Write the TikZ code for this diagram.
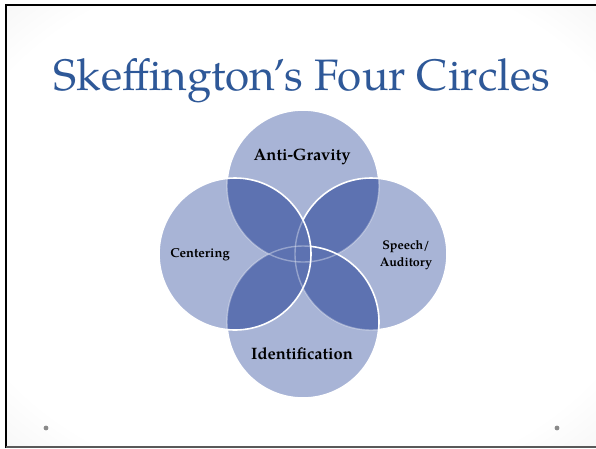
\documentclass[tikz,border=0pt]{standalone}
\usepackage{fontspec}
\setmainfont{TeX Gyre Pagella}
\definecolor{circL}{HTML}{A8B4D6}
\definecolor{circD}{HTML}{5D72B1}
\definecolor{titleblue}{HTML}{2E5898}
\definecolor{dotgray}{HTML}{8A8A8A}
\pgfdeclareradialshading{slidebg}{\pgfpoint{0bp}{0bp}}{%
  color(0bp)=(white); color(30bp)=(white); color(50bp)=(black!11); color(71bp)=(black!19); color(100bp)=(black!19)}
\tikzset{
  brightline/.style={draw=white, line width=1.6pt},
  faintline/.style={draw=white, draw opacity=0.35, line width=1.4pt},
  lbl/.style={font=\bfseries, text=black, align=center, inner sep=0pt},
}
\newcommand{\pT}{(303,186) circle[radius=76]}
\newcommand{\pR}{(371,254) circle[radius=76]}
\newcommand{\pB}{(303,322) circle[radius=76]}
\newcommand{\pL}{(235,254) circle[radius=76]}
\begin{document}
\begin{tikzpicture}[x=1pt,y=-1pt]
\useasboundingbox (0,0) rectangle (596,448);
\fill[white] (0,0) rectangle (596,448);
\shade[shading=slidebg] (6,5) rectangle (596,447);
\draw[black, line width=2pt] (6,448) -- (6,5) -- (596,5);
\draw[black!65, line width=1.6pt] (6,447.2) -- (596,447.2);

% title
\node[anchor=base, font=\fontsize{44}{48}\selectfont, text=titleblue, inner sep=0pt] (title) at (302,90) {Skeffington’s Four Circles};

% circle T
\fill[circL] \pT;
\begin{scope}\clip \pT; \fill[circD] \pR; \fill[circD] \pB; \fill[circD] \pL; \end{scope}
\path[brightline] \pT;
% circle R
\fill[circL] \pR;
\begin{scope}\clip \pR; \fill[circD] \pT; \fill[circD] \pB; \fill[circD] \pL;
  \path[faintline] \pT; \end{scope}
\path[brightline] \pR;
% circle B
\fill[circL] \pB;
\begin{scope}\clip \pB; \fill[circD] \pT; \fill[circD] \pR; \fill[circD] \pL;
  \path[faintline] \pT; \path[faintline] \pR; \end{scope}
\path[brightline] \pB;
% circle L
\fill[circL] \pL;
\begin{scope}\clip \pL; \fill[circD] \pT; \fill[circD] \pR; \fill[circD] \pB;
  \path[faintline] \pT; \path[faintline] \pR; \path[faintline] \pB; \end{scope}
\path[brightline] \pL;

% labels
\node[lbl, font=\bfseries\fontsize{16.5}{19}\selectfont] (anti) at (302,157) {Anti-Gravity};
\node[lbl, font=\bfseries\fontsize{13}{17}\selectfont] (cent) at (200,255) {Centering};
\node[lbl, font=\bfseries\fontsize{12.5}{17}\selectfont] (speech) at (406,255) {Speech/\\Auditory};
\node[lbl, font=\bfseries\fontsize{16.5}{19}\selectfont] (ident) at (302,354) {Identification};

% dots
\fill[dotgray] (46,428) circle[radius=2.4];
\fill[dotgray] (557,428) circle[radius=2.4];
\end{tikzpicture}
\end{document}
